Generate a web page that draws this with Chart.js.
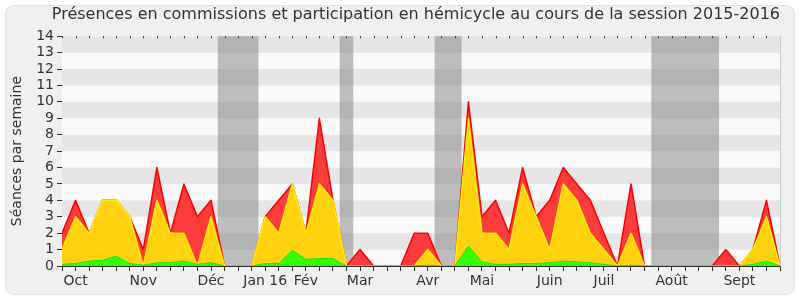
<!DOCTYPE html>
<html>
<head>
<meta charset="utf-8">
<script src="https://cdn.jsdelivr.net/npm/chart.js@4/dist/chart.umd.min.js"></script>
<style>
  html, body { margin: 0; padding: 0; background: #ffffff; }
  #wrap { width: 800px; height: 300px; }
</style>
</head>
<body>
<div id="wrap"><canvas id="chart" width="800" height="300"></canvas></div>
<script>
// weekly values, session 2015-2016 (index 0 = first week of the session)
const totalSeances = [2, 4, 2, 4, 4, 3, 1, 6, 2, 5, 3, 4, 0, 0, 0, 3, 4, 5, 2, 9, 4, 0, 1, 0, 0, 0, 2, 2, 0, 0,
  10, 3, 4, 2, 6, 3, 4, 6, 5, 4, 2, 0, 5, 0, 0, 0, 0, 0, 0, 1, 0, 1, 4, 0];
const hemicycle = [1, 3, 2, 4, 4, 3, 0, 4, 2, 2, 0, 3, 0, 0, 0, 3, 2, 5, 2, 5, 4, 0, 0, 0, 0, 0, 0, 1, 0, 0,
  9, 2, 2, 1, 5, 3, 1, 5, 4, 2, 1, 0, 2, 0, 0, 0, 0, 0, 0, 0, 0, 1, 3, 0];
const commissions = [0.1, 0.15, 0.3, 0.35, 0.6, 0.15, 0.05, 0.2, 0.2, 0.3, 0.1, 0.2, 0, 0, 0, 0.15, 0.15, 0.95, 0.4, 0.45,
  0.45, 0, 0, 0, 0, 0, 0, 0.05, 0, 0, 1.2, 0.25, 0.1, 0.1, 0.15, 0.15, 0.2, 0.3, 0.25, 0.2, 0.1, 0, 0.05, 0, 0, 0,
  0, 0, 0, 0, 0, 0.1, 0.3, 0];

const monthTicks = [1, 6, 11, 15, 18, 22, 27, 31, 36, 40, 45, 50];
const monthLabels = ['Oct', 'Nov', 'Déc', 'Jan 16', 'Fév', 'Mar', 'Avr', 'Mai', 'Juin', 'Juil', 'Août', 'Sept'];

// parliamentary breaks (in week index units)
const vacances = [[11.5, 14.5], [20.5, 21.5], [27.5, 29.5], [43.5, 48.5]];

const weeks = totalSeances.map((_, i) => i);

function toPoints(values) {
  return values.map((v, i) => ({ x: weeks[i], y: v }));
}

// background: rounded frame, stripes and grey break bands
const backdrop = {
  id: 'backdrop',
  beforeDraw(chart) {
    const ctx = chart.ctx;
    ctx.save();
    ctx.fillStyle = '#f0f0f0';
    ctx.strokeStyle = '#e2e2e2';
    ctx.beginPath();
    ctx.roundRect(5.5, 5.5, 789, 289, 8);
    ctx.fill();
    ctx.stroke();
    ctx.restore();
  },
  beforeDatasetsDraw(chart) {
    const { ctx, chartArea: a, scales } = chart;
    const x = scales.x, y = scales.y;
    ctx.save();
    for (let v = 0; v < 14; v++) {
      ctx.fillStyle = v % 2 === 1 ? '#e6e6e6' : '#fafafa';
      const top = y.getPixelForValue(v + 1), bot = y.getPixelForValue(v);
      ctx.fillRect(a.left, top, a.right - a.left, bot - top);
    }
    ctx.fillStyle = 'rgba(128,128,128,0.5)';
    vacances.forEach(([s, e]) => {
      const l = x.getPixelForValue(s), r = x.getPixelForValue(e);
      ctx.fillRect(l, a.top, r - l, a.bottom - a.top);
    });
    ctx.restore();
  },
  afterDraw(chart) {
    const { ctx, chartArea: a, scales } = chart;
    ctx.save();
    ctx.fillStyle = '#333';
    weeks.forEach(w => {
      const px = Math.round(scales.x.getPixelForValue(w));
      ctx.fillRect(px, a.top, 1, 2);
    });
    ctx.strokeStyle = '#cccccc';
    ctx.beginPath();
    ctx.moveTo(a.right + 0.5, a.top);
    ctx.lineTo(a.right + 0.5, a.bottom);
    ctx.stroke();
    ctx.restore();
  }
};

new Chart(document.getElementById('chart'), {
  type: 'line',
  data: {
    datasets: [
      {
        label: 'Commissions',
        data: toPoints(commissions),
        borderColor: '#22dd00',
        backgroundColor: '#33ff00',
        borderWidth: 1,
        fill: 'origin',
        order: 1
      },
      {
        label: 'Hémicycle',
        data: toPoints(hemicycle),
        borderColor: '#ffee00',
        backgroundColor: '#ffd10f',
        borderWidth: 1.5,
        fill: 'origin',
        order: 2
      },
      {
        label: 'Total',
        data: toPoints(totalSeances),
        borderColor: '#ff0000',
        backgroundColor: '#ff3c3c',
        borderWidth: 1.5,
        fill: 'origin',
        order: 3
      }
    ]
  },
  options: {
    responsive: false,
    animation: false,
    layout: { padding: { left: 0, right: 20, top: 0, bottom: 0 } },
    elements: { point: { radius: 0 }, line: { tension: 0, borderJoinStyle: 'round' } },
    plugins: {
      legend: { display: false },
      tooltip: { enabled: false },
      title: {
        display: true,
        align: 'end',
        text: 'Présences en commissions et participation en hémicycle au cours de la session 2015-2016',
        color: '#333333',
        font: { family: 'DejaVu Sans', size: 16, weight: 'normal' },
        padding: { top: 5, bottom: 12 }
      }
    },
    scales: {
      x: {
        type: 'linear',
        min: 0,
        max: weeks[weeks.length - 1],
        afterFit(s) { s.height = 34; },
        afterBuildTicks(s) { s.ticks = weeks.map(w => ({ value: w })); },
        ticks: {
          autoSkip: false,
          maxRotation: 0,
          padding: 2,
          color: '#333333',
          font: { family: 'DejaVu Sans', size: 14 },
          callback(v) {
            const k = monthTicks.indexOf(v);
            return k >= 0 ? monthLabels[k] : '';
          }
        },
        grid: { drawOnChartArea: false, tickLength: 5, color: '#333333' },
        border: { color: '#333333' }
      },
      y: {
        min: 0,
        max: 14,
        afterFit(s) { s.width = 62; },
        ticks: {
          stepSize: 1,
          autoSkip: false,
          padding: 3,
          color: '#333333',
          font: { family: 'DejaVu Sans', size: 14 }
        },
        grid: { drawOnChartArea: false, tickLength: 5, color: '#333333' },
        border: { color: '#333333' },
        title: {
          display: true,
          text: 'Séances par semaine',
          color: '#333333',
          font: { family: 'DejaVu Sans', size: 14 },
          padding: { top: 9, bottom: 2 }
        }
      }
    }
  },
  plugins: [backdrop]
});
</script>
</body>
</html>
